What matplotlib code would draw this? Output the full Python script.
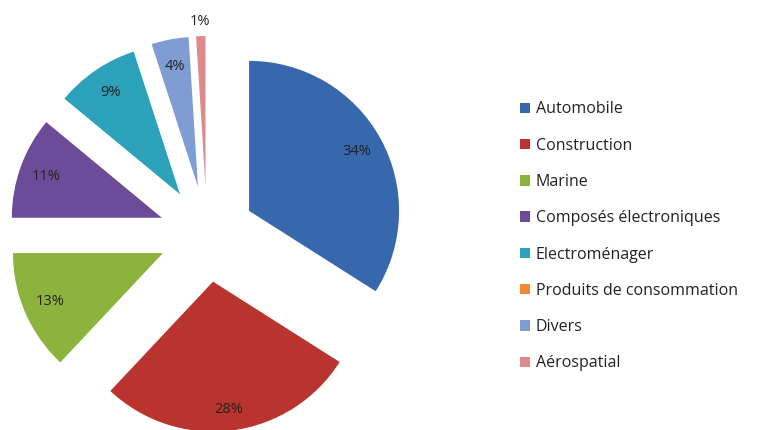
import matplotlib
matplotlib.use("Agg")
import matplotlib.pyplot as plt
import numpy as np

plt.rcParams["font.family"] = ["Open Sans", "DejaVu Sans"]

categories = ["Automobile", "Construction", "Marine", "Composés électroniques",
              "Electroménager", "Produits de consommation", "Divers", "Aérospatial"]
shares = [34, 28, 13, 11, 9, 0, 4, 1]
colors = ["#3767ad", "#b9342f", "#8cb43d", "#6c4c98",
          "#2ba2ba", "#f08a35", "#7f9dd3", "#dc8a8c"]

fig = plt.figure(figsize=(7.57, 4.30), dpi=100)
ax = fig.add_axes([0, 0, 1, 1])

wedges, _ = ax.pie(shares, colors=colors, startangle=90, counterclock=False,
                   explode=[0.32] * len(shares), radius=1.0,
                   wedgeprops={"linewidth": 0})

# percentage labels placed inside each exploded wedge
for w, v in zip(wedges, shares):
    if v == 0:
        continue
    ang = np.deg2rad((w.theta1 + w.theta2) / 2)
    cx, cy = w.center
    dist = 1.1 if v < 2 else 0.82
    if v == 28:
        dist = 0.86
    ax.text(cx + dist * np.cos(ang), cy + dist * np.sin(ang), f"{v}%",
            ha="center", va="center", fontsize=10.5, color="#222222")

ax.set_aspect("equal")
ax.set_xlim(-207 / 150, (757 - 207) / 150)
ax.set_ylim((234 - 430) / 150, 234 / 150)
ax.axis("off")

leg = ax.legend(wedges, categories, loc="upper left",
                bbox_to_anchor=(514 / 757, 1 - 95 / 430),
                frameon=False, fontsize=11.5, handlelength=0.62,
                handleheight=0.62, handletextpad=0.33, labelspacing=1.27,
                borderaxespad=0)
for t in leg.get_texts():
    t.set_color("#222222")

fig.savefig("out.png", dpi=100)
